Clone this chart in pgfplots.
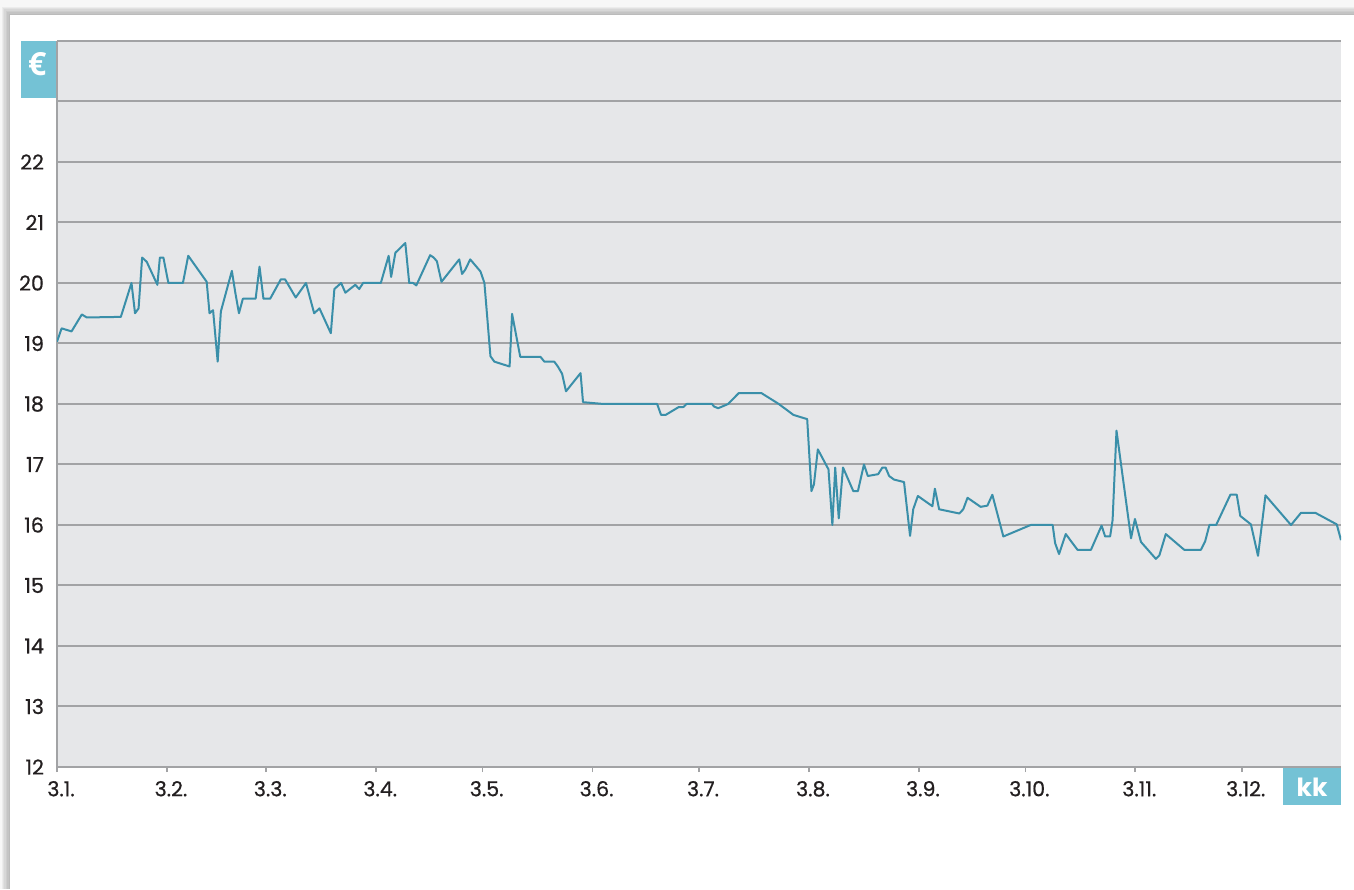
\documentclass[border=0pt]{standalone}
\usepackage{fontspec}
\setmainfont{Poppins}
\newfontfamily\boxfont{Open Sans}
\usepackage{pgfplots}
\pgfplotsset{compat=1.18}
\definecolor{plotbg}{HTML}{E6E7E9}
\definecolor{gridgray}{HTML}{A2A3A5}
\definecolor{linecol}{HTML}{3A8FA9}
\definecolor{boxcol}{HTML}{74C2D5}
\definecolor{labcol}{HTML}{231F20}
\begin{document}
\begin{tikzpicture}
\path[use as bounding box] (0,0) rectangle (677pt,444.5pt);
% shadow around card
\fill[black!3] (0,0) rectangle (677pt,444.5pt);
\foreach \i in {0,...,6}{
  \fill[black,opacity=0.045] ({5pt-\i*0.7pt},0) rectangle (677pt,{437pt+\i*0.7pt});
}
\fill[white] (5pt,0) rectangle (677pt,437pt);
\begin{axis}[
  at={(28.5pt,61pt)}, anchor=south west,
  width=642pt, height=363pt, scale only axis,
  xmin=0, xmax=362, ymin=12, ymax=24,
  axis background/.style={fill=plotbg},
  axis x line*=bottom, axis y line*=left,
  axis line style={draw=gridgray, line width=1pt, -},
  xtick={0,31,59,90,120,151,181,212,243,273,304,334},
  xticklabels={3.1.,3.2.,3.3.,3.4.,3.5.,3.6.,3.7.,3.8.,3.9.,3.10.,3.11.,3.12.},
  ytick={12,13,14,15,16,17,18,19,20,21,22,23,24},
  yticklabels={12,13,14,15,16,17,18,19,20,21,22,{},{}},
  ymajorgrids,
  major grid style={draw=gridgray, line width=1pt},
  tick align=outside,
  major tick length=2.5pt,
  xtick style={draw=gridgray, line width=0.8pt},
  ytick style={draw=none},
  /pgf/number format/assume math mode=true,
  ticklabel style={font=\fontsize{10.3}{12}\selectfont\addfontfeature{FakeBold=0.6}, text=labcol},
  xticklabel style={xshift=2pt, yshift=-1pt},
  yticklabel style={xshift=-0.5pt},
  clip=true,
]
\addplot[color=linecol, line width=1pt, line join=round] coordinates {
(0,19.03) (1.3,19.25) (4.1,19.2) (7,19.48) (8.4,19.43) (18,19.44) (21,20.0) (22,19.5) (23,19.58)
(24,20.42) (25.3,20.35) (28.3,19.97) (29,20.42) (30,20.42) (31.4,20.0) (35.5,20.0) (37,20.45)
(42.2,20.02) (43,19.5) (44,19.55) (45.3,18.7) (46.2,19.53) (49.3,20.2) (50.3,19.83) (51.3,19.5)
(52.4,19.74) (56,19.74) (57.1,20.27) (58.2,19.74) (60.1,19.74) (63.1,20.06) (64.3,20.06)
(67.3,19.76) (70.2,20.0) (72.5,19.5) (74,19.58) (77.2,19.17) (78.2,19.9) (80.1,20.0) (81.3,19.84)
(84.1,19.97) (85.2,19.9) (86.3,20.0) (91.3,20.0) (93.5,20.45) (94.2,20.1) (95.4,20.5) (98.2,20.66)
(99.3,20.0) (100.4,20.0) (101.3,19.96) (105.2,20.46) (106.2,20.42) (107.1,20.36) (108.4,20.02)
(113.4,20.39) (114.2,20.15) (115.1,20.22) (116.5,20.39) (119.4,20.19) (120.5,20.0) (122.2,18.79)
(123.3,18.7) (127.6,18.62) (128.3,19.49) (130.6,18.78) (136.3,18.78) (137.4,18.7) (140.2,18.7)
(141.2,18.62) (142.4,18.5) (143.5,18.21) (147.6,18.51) (148.3,18.03) (154.1,18.0) (169.2,18.0)
(170.3,17.82) (171.6,17.82) (175.3,17.95) (176.6,17.95) (177.5,18.0) (184.7,18.0) (185.2,17.96)
(186.4,17.93) (189.2,18.0) (192.2,18.18) (198.6,18.18) (203.5,18.0) (207.6,17.82) (211.5,17.75)
(212.7,16.56) (213.4,16.67) (214.5,17.25) (217.5,16.92) (218.6,16.0) (219.4,16.95) (220.4,16.11)
(221.6,16.95) (224.5,16.56) (225.8,16.56) (227.5,17.0) (228.6,16.81) (231.5,16.84) (232.7,16.95)
(233.6,16.95) (234.6,16.81) (236,16.75) (238.8,16.71) (240.5,15.82) (241.4,16.26) (242.7,16.48)
(246.8,16.31) (247.5,16.6) (248.7,16.26) (254.4,16.19) (255.5,16.26) (256.7,16.45) (260.4,16.3)
(262.3,16.32) (263.7,16.5) (266.8,15.81) (274.5,16.0) (280.7,16.0) (281.4,15.7) (282.5,15.52)
(284.4,15.85) (287.7,15.59) (291.5,15.59) (294.5,15.99) (295.5,15.81) (296.9,15.81) (297.6,16.08)
(298.7,17.56) (302.8,15.78) (303.9,16.1) (305.6,15.72) (309.8,15.44) (310.8,15.5) (312.6,15.85)
(317.8,15.59) (322.5,15.59) (323.7,15.73) (324.9,16.0) (326.8,16.0) (330.8,16.5) (332.6,16.5)
(333.6,16.15) (336.6,16.01) (338.6,15.49) (340.7,16.49) (347.9,16.0) (350.7,16.2) (354.8,16.2)
(360.8,16.01) (362,15.75)
};
\end{axis}
% unit boxes
\fill[boxcol] (10.5pt,395.5pt) rectangle (28pt,424pt);
\node[text=white, font=\boxfont\fontsize{16}{18}\selectfont\bfseries, inner sep=0pt] at (18.6pt,412.3pt) {€};
\fill[boxcol] (641.5pt,42pt) rectangle (670.5pt,60.5pt);
\node[text=white, font=\fontsize{12.5}{14}\selectfont\bfseries, inner sep=0pt] at (656pt,51pt) {kk};
\end{tikzpicture}
\end{document}
